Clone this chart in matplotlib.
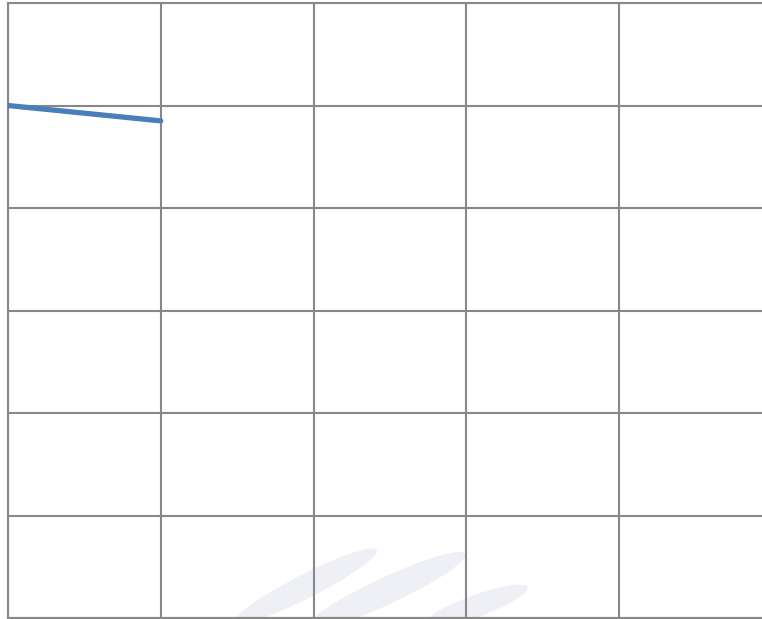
import matplotlib
matplotlib.use("Agg")
import matplotlib.pyplot as plt
from matplotlib.patches import Ellipse

# data
categories = [0, 1, 2, 3, 4]
series = [50.0, 48.5]
y_ticks = [0, 10, 20, 30, 40, 50, 60]

W, H = 762, 619
fig = plt.figure(figsize=(W / 100, H / 100), dpi=100)

# faint watermark behind the grid
bg = fig.add_axes([0, 0, 1, 1], zorder=0)
bg.set_xlim(0, W)
bg.set_ylim(H, 0)
bg.axis("off")
for cx, cy, ln, wd, ang in [(306, 586, 160, 24, 27), (386, 591, 175, 27, 25), (476, 606, 110, 22, 20)]:
    bg.add_patch(Ellipse((cx, cy), ln, wd, angle=-ang, color="#eef0f5", lw=0))

cell = 152.75
ax = fig.add_axes([8 / W, 1 / H, 5 * cell / W, 615 / H], zorder=1)
ax.patch.set_alpha(0)
ax.plot(categories[:len(series)], series, color="#4a7ebb", lw=3.8,
        solid_capstyle="round", zorder=3)
ax.set_xlim(0, 5)
ax.set_ylim(0, 60)
ax.set_xticks(range(6))
ax.set_yticks(y_ticks)
ax.grid(True, color="#888888", lw=1.5)
ax.tick_params(length=0, labelbottom=False, labelleft=False)
for s in ax.spines.values():
    s.set_color("#888888")
    s.set_linewidth(1.5)

plt.savefig("out.png", dpi=100)
